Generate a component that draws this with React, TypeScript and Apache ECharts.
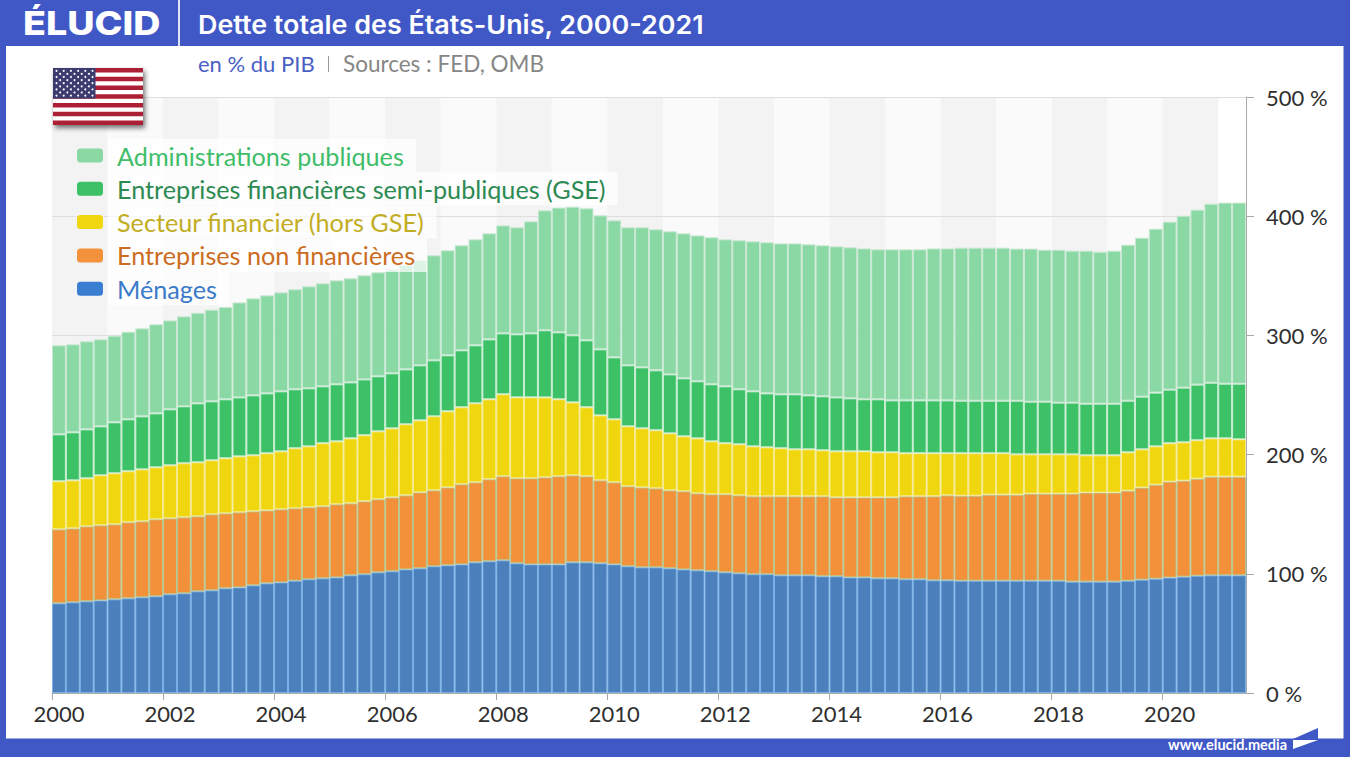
import React, { useEffect, useRef } from "react";
import * as echarts from "echarts";

const FONT = "Lato, 'Noto Sans', sans-serif";
const BLUE = "#3f58c6";

const years = [2000, 2002, 2004, 2006, 2008, 2010, 2012, 2014, 2016, 2018, 2020];
// 86 quarters, the year is shown on the first quarter of every second year
const quarters: string[] = [];
for (let i = 0; i < 86; i++) quarters.push(i % 8 === 0 ? String(years[i / 8]) : "");
// 87 quarter boundaries, for the ticks and the year bands
const edges: string[] = [];
for (let i = 0; i <= 86; i++) edges.push(String(i));

// Cumulative tops, % of GDP
const topMenages = [
  75.2,76.1,76.9,77.7,78.6,79.4,80.3,81.1,82.8,83.6,85.3,86.1,87.8,88.6,90.3,92,92.8,94.2,95.4,96.2,97,98.7,
  99.6,101.2,102.1,103.7,104.6,106.3,107.1,107.9,109.6,110.5,111.3,108.8,107.9,107.9,107.9,109.6,109.6,108.8,107.9,106.3,105.4,
  105.4,104.6,103.7,102.9,102.1,101.2,100.4,99.6,99.6,98.7,98.7,98.7,97.9,97.9,97,97,96.2,96.2,95.4,95.4,94.5,94.5,
  94.2,94.2,94.2,94.2,94.2,94.2,94.2,94.2,93.4,93.4,93.4,93.4,94.2,95.1,95.9,96.8,97.6,98.4,98.7,98.7,98.7,
];
const topNonFin = [
  137.3,138.1,139.8,140.7,141.5,143.2,144,145.7,146.5,147.4,148.2,149.9,150.7,151.6,152.4,153.2,154.1,154.9,155.8,156.6,158.3,159.1,
  160.8,162.5,164.1,165.8,168.3,170,172.5,175.1,176.7,179.3,181.8,180.1,180.1,180.9,181.8,182.6,181.8,178.4,176.7,173.4,172.5,
  171.7,170,169.2,167.5,166.7,166.7,165.8,165,165,165,165,165,165,164.1,164.1,164.1,164.1,164.1,165,165,165,165.8,
  165.5,165.5,166.4,166.4,166.4,167.2,167.2,167.2,167.2,168.1,168.1,168.1,169.7,172.3,174.8,177.3,178.1,179.8,181.5,181.5,181.5,
];
const topFin = [
  177.6,178.4,180.1,182.6,184.3,186,187.6,189.3,191,192.7,193.5,195.2,196.9,198.5,199.4,201.1,202.7,205.3,206.9,209.5,211.1,213.6,
  216.2,219.5,222,225.4,228.7,232.1,236.3,239.7,243,246.4,250.6,248,248,248,246.4,243.8,239.7,232.9,229.6,223.7,222,
  220.4,217.8,215.3,213.6,211.1,209.5,208.6,206.9,206.1,205.3,204.4,204.4,203.6,202.7,202.7,202.7,201.9,201.9,201.1,201.1,201.1,201.1,
  201.1,201.1,201.1,201.1,200.2,200.2,200.2,200.2,200.2,199.4,199.4,199.4,201.9,204.4,206.9,209.5,210.3,212,213.6,213.6,212.8,
];
const topGse = [
  217,218.7,221.2,223.7,227.1,229.6,232.1,234.6,238,240.5,243,244.7,246.4,248,249.7,251.4,253.1,254.8,255.6,257.3,259,260.6,
  263.1,265.7,268.2,271.5,274.9,279.1,283.3,287.5,291.7,296.7,301.7,300.9,301.7,304.3,302.6,300.1,295.9,288.3,281.6,274.9,273.2,
  270.7,267.3,264,261.5,259,257.3,254.8,253.1,251.4,250.6,250.6,249.7,248.9,248,247.2,246.4,246.4,245.5,245.5,245.5,245.5,245.5,
  245.2,245.2,245.2,245.2,245.2,244.4,244.4,243.6,243.6,242.7,242.7,242.7,245.2,248.6,252,254.5,256.2,258.7,260.3,259.5,259.5,
];
const topAdmin = [
  291.7,292.5,295,296.7,299.8,303.1,305.9,309.3,312.6,316,319,321.6,323.8,327.7,331.1,333.6,336.1,338.7,341.2,343.7,346.2,347.9,
  350.4,352.9,355.4,358.8,363,367.2,371.4,375.6,380.6,385.6,392.3,390.7,395.7,404.9,407.2,408,406.6,400.7,396.5,390.7,390.7,
  389,387.3,385.6,383.9,382.3,380.6,379.8,378.9,378.1,377.2,377.2,376.4,375.6,374.7,373.9,373,372.2,372.2,372.2,372.2,373,373,
  373.6,373.6,373.6,373.6,372.8,372.8,371.9,371.9,371.1,371.1,370.2,371.1,376.1,382,389.5,395.4,400.4,405.5,410.5,411.4,411.4,
];

const diff = (a: number[], b?: number[]) => a.map((v, i) => +(v - (b ? b[i] : 0)).toFixed(1));

const names = [
  "Administrations publiques",
  "Entreprises financières semi-publiques (GSE)",
  "Secteur financier (hors GSE)",
  "Entreprises non financières",
  "Ménages",
];
const swatches = ["#8ad8a4", "#3cc167", "#efd60e", "#f4923b", "#3a7ed2"];
const textColors = ["#3fbd69", "#2c8a52", "#c2ad24", "#cc6c1f", "#3a7ac8"];

const flagGraphics = () => {
  const out: any[] = [];
  const x0 = 53, y0 = 68, w = 90, h = 57;
  out.push({
    type: "rect", z: 50, shape: { x: x0, y: y0, width: w, height: h },
    style: { fill: "#fff", shadowBlur: 5, shadowOffsetX: 2, shadowOffsetY: 3, shadowColor: "rgba(0,0,0,0.55)" },
  });
  for (let i = 0; i < 13; i += 2) {
    out.push({
      type: "rect", z: 51,
      shape: { x: x0, y: y0 + (i * h) / 13, width: w, height: h / 13 },
      style: { fill: "#ad1f35" },
    });
  }
  out.push({ type: "rect", z: 52, shape: { x: x0, y: y0, width: 42.5, height: 30.5 }, style: { fill: "#3b3b70" } });
  for (let r = 0; r < 9; r++) {
    const n = r % 2 === 0 ? 6 : 5;
    for (let c = 0; c < n; c++) {
      out.push({
        type: "circle", z: 53,
        shape: { cx: x0 + 3.5 + (r % 2 === 0 ? 0 : 3.6) + c * 7.2, cy: y0 + 2.8 + r * 3.1, r: 1 },
        style: { fill: "#fff" },
      });
    }
  }
  return out;
};

export default function App() {
  const ref = useRef<HTMLDivElement>(null);
  useEffect(() => {
    document.body.style.margin = "0";
    const chart = echarts.init(ref.current!, undefined, { renderer: "svg" });
    const mk = (i: number, data: number[], border: string, color: string) => ({
      name: names[i],
      type: "bar",
      stack: "dette",
      xAxisIndex: 0,
      yAxisIndex: 0,
      barWidth: "100%",
      barCategoryGap: 0,
      data,
      itemStyle: { color, borderColor: border, borderWidth: 1 },
    });
    chart.setOption({
      animation: false,
      backgroundColor: BLUE,
      textStyle: { fontFamily: FONT },
      grid: { left: 52, right: 104, top: 97, bottom: 64 },
      xAxis: [
        {
          type: "category", data: quarters, boundaryGap: true, z: 3,
          axisLine: { show: true, lineStyle: { color: "#a9a9a9", width: 1 } },
          axisTick: { show: false },
          axisLabel: { show: true, interval: 7, fontSize: 22, color: "#2f2f2f", margin: 9, fontFamily: FONT },
          splitLine: { show: false },
        },
        {
          type: "category", data: edges, boundaryGap: false, position: "bottom",
          axisLine: { show: false },
          axisTick: { show: true, interval: 7, length: 7, lineStyle: { color: "#a9a9a9" } },
          axisLabel: { show: false },
          splitLine: { show: false },
          splitArea: { show: true, interval: 3, areaStyle: { color: ["#f3f3f3", "#fafafa"] } },
        },
      ],
      yAxis: [
        {
          type: "value", position: "right", min: 0, max: 500, interval: 100, z: 1,
          axisLine: { show: false }, axisTick: { show: false }, axisLabel: { show: false },
          splitLine: { show: true, lineStyle: { color: "#dedede", width: 1 } },
        },
        {
          type: "value", position: "right", min: 0, max: 500, interval: 100, z: 3,
          axisLine: { show: true, lineStyle: { color: "#a9a9a9" } },
          axisTick: { show: true, length: 8, lineStyle: { color: "#a9a9a9" } },
          axisLabel: { formatter: "{value} %", fontSize: 22, color: "#2f2f2f", margin: 20, fontFamily: FONT, padding: [0, 0, 2, 0] },
          splitLine: { show: false },
        },
      ],
      legend: {
        show: true,
        orient: "vertical", left: 77, top: 139, padding: 0, itemWidth: 26, itemHeight: 14, itemGap: 0.3,
        selectedMode: false,
        data: names.map((name, i) => ({
          name,
          itemStyle: { color: swatches[i], borderWidth: 0 },
          textStyle: {
            color: textColors[i], fontSize: 25.2, lineHeight: 25, fontFamily: FONT,
            backgroundColor: "rgba(255,255,255,0.72)", padding: [4, 12, 4, 9],
          },
        })),
      },
      series: [
        mk(4, diff(topMenages), "#77afe6", "#4c80bc"),
        mk(3, diff(topNonFin, topMenages), "#b8c68c", "#f3913a"),
        mk(2, diff(topFin, topNonFin), "#f6ea8e", "#efd60e"),
        mk(1, diff(topGse, topFin), "#c8eed3", "#3cc167"),
        mk(0, diff(topAdmin, topGse), "#cbe9d4", "#8ad8a4"),
      ],
      graphic: [
        { type: "rect", z: -10, shape: { x: 6, y: 46, width: 1337.5, height: 692.5 }, style: { fill: "#fff" } },
        { type: "rect", z: 60, shape: { x: 178, y: 0, width: 2, height: 46 }, style: { fill: "#dfe3f6" } },
        { type: "text", z: 60, x: 23, y: 7, scaleX: 1.14, style: { text: "ÉLUCID", font: `800 33px Inter, ${FONT}`, fill: "#fff" } },
        { type: "text", z: 60, x: 198, y: 11, scaleX: 1.035, style: { text: "Dette totale des États-Unis, 2000-2021", font: `600 26px Inter, ${FONT}`, fill: "#fff" } },
        { type: "text", z: 60, x: 198, y: 52, style: { text: "en % du PIB", font: `400 22px ${FONT}`, fill: "#4a5fc4" } },
        { type: "rect", z: 60, shape: { x: 328, y: 56, width: 1, height: 16 }, style: { fill: "#9a9a9a" } },
        { type: "text", z: 60, x: 343, y: 52, style: { text: "Sources : FED, OMB", font: `400 22.5px ${FONT}`, fill: "#868686" } },
        ...flagGraphics(),
        { type: "text", z: 60, x: 1168, y: 737, style: { text: "www.elucid.media", font: `700 14.5px ${FONT}`, fill: "#fff" } },
        { type: "polygon", z: 60, shape: { points: [[1293, 739], [1318, 728], [1318, 739]] }, style: { fill: BLUE } },
        { type: "polygon", z: 60, shape: { points: [[1293, 740], [1318, 740], [1293, 749]] }, style: { fill: "#fff" } },
      ],
    });
    return () => chart.dispose();
  }, []);
  return <div ref={ref} style={{ width: 1350, height: 757 }} />;
}
